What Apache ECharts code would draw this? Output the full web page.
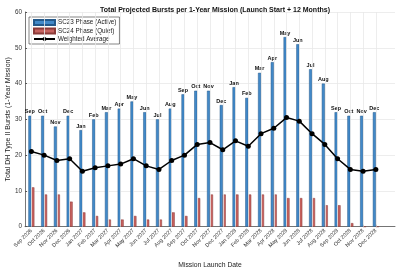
<!DOCTYPE html>
<html>
<head>
<meta charset="utf-8">
<script src="https://cdn.jsdelivr.net/npm/echarts@6/dist/echarts.min.js"></script>
<style>html,body{margin:0;padding:0;background:#fff}#c{width:400px;height:267px}</style>
</head>
<body>
<div id="c"></div>
<script>
const categories = ['Sep 2026','Oct 2026','Nov 2026','Dec 2026','Jan 2027','Feb 2027','Mar 2027','Apr 2027','May 2027','Jun 2027','Jul 2027','Aug 2027','Sep 2027','Oct 2027','Nov 2027','Dec 2027','Jan 2028','Feb 2028','Mar 2028','Apr 2028','May 2028','Jun 2028','Jul 2028','Aug 2028','Sep 2028','Oct 2028','Nov 2028','Dec 2028'];
const sc23 = [31,31,28,31,27,30,32,33,35,32,30,33,37,38,38,34,39,36,43,46,53,51,44,40,32,31,31,32];
const sc24 = [11,9,9,7,4,3,2,2,3,2,2,4,3,8,9,9,9,9,9,9,8,8,8,6,6,1,0,0];
const weightedAvg = [21,20,18.5,19,15.5,16.5,17,17.5,19,17,16,18.5,20,23,23.5,21.5,24,22.5,26,27.5,30.5,29.5,26,23,19,16,15.5,16];
const yTicks = {min:0, max:60, interval:10};

const axisCats = categories.concat(['']);
const font = 'Liberation Sans, Arial, Helvetica, sans-serif';
const chart = echarts.init(document.getElementById('c'), null, {renderer:'canvas'});
chart.setOption({
  animation:false,
  textStyle:{fontFamily:font},
  title:{
    text:'Total Projected Bursts per 1-Year Mission (Launch Start + 12 Months)',
    left:210, top:2, textAlign:'center',
    textStyle:{fontSize:7, fontWeight:'bold', color:'#111', fontFamily:font}
  },
  grid:{left:25, right:5, top:12, bottom:40.3, outerBoundsMode:'none'},
  legend:{
    orient:'vertical', left:29, top:17,
    data:[{name:'SC23 Phase (Active)', icon:'rect'},{name:'SC24 Phase (Quiet)', icon:'rect'},{name:'Weighted Average'}],
    backgroundColor:'#fff', borderColor:'#333', borderWidth:0.6, borderRadius:0,
    padding:[2,3,2,4], itemWidth:21, itemHeight:5, itemGap:1.5,
    textStyle:{fontSize:6.3, color:'#222', fontFamily:font, padding:[0,0,0,-2]}
  },
  xAxis:{
    type:'category', data:axisCats, boundaryGap:true,
    name:'Mission Launch Date', nameLocation:'middle', nameGap:35, nameMoveOverlap:false,
    nameTextStyle:{fontSize:6.8, color:'#222'},
    axisLine:{lineStyle:{color:'#555', width:0.8}},
    axisTick:{show:true, inside:true, length:2, alignWithLabel:true, interval:(i)=>i<categories.length, lineStyle:{color:'#333'}},
    axisLabel:{rotate:45, fontSize:5.5, color:'#333', margin:3, interval:0},
    splitLine:{show:false}
  },
  yAxis:{
    type:'value', min:yTicks.min, max:yTicks.max, interval:yTicks.interval,
    name:'Total DH Type II Bursts (1-Year Mission)', nameLocation:'middle', nameGap:13, nameMoveOverlap:false,
    nameTextStyle:{fontSize:7, color:'#222'},
    axisLine:{show:true, lineStyle:{color:'#555', width:0.8}},
    axisTick:{show:true, inside:true, length:2, lineStyle:{color:'#555'}},
    axisLabel:{fontSize:6.3, color:'#333', margin:3},
    splitLine:{show:true, lineStyle:{color:'#e9e9e9', width:0.8}}
  },
  series:[
    {
      name:'grid', type:'line', data:[], z:0, silent:true,
      markLine:{silent:true, symbol:['none','none'], label:{show:false},
        lineStyle:{color:'#e9e9e9', width:0.8, type:'solid'},
        data:categories.map(c=>({xAxis:c}))}
    },
    {
      name:'SC23 Phase (Active)', type:'bar', data:sc23, barWidth:3, barGap:'0%', z:2,
      itemStyle:{color:'#4289c8', borderColor:'#24598a', borderWidth:0.5},
      label:{show:true, position:'top', distance:1, fontSize:5.5, fontWeight:'bold', color:'#111',
        formatter:(p)=>categories[p.dataIndex].split(' ')[0]}
    },
    {
      name:'SC24 Phase (Quiet)', type:'bar', data:sc24, barWidth:3, barGap:'0%', z:2,
      itemStyle:{color:'#c6625f', borderColor:'#8a3b39', borderWidth:0.5}
    },
    {
      name:'Weighted Average', type:'line', data:weightedAvg, z:5,
      symbol:'circle', symbolSize:5,
      lineStyle:{color:'#000', width:1.5}, itemStyle:{color:'#000'}
    }
  ]
});
</script>
</body>
</html>
